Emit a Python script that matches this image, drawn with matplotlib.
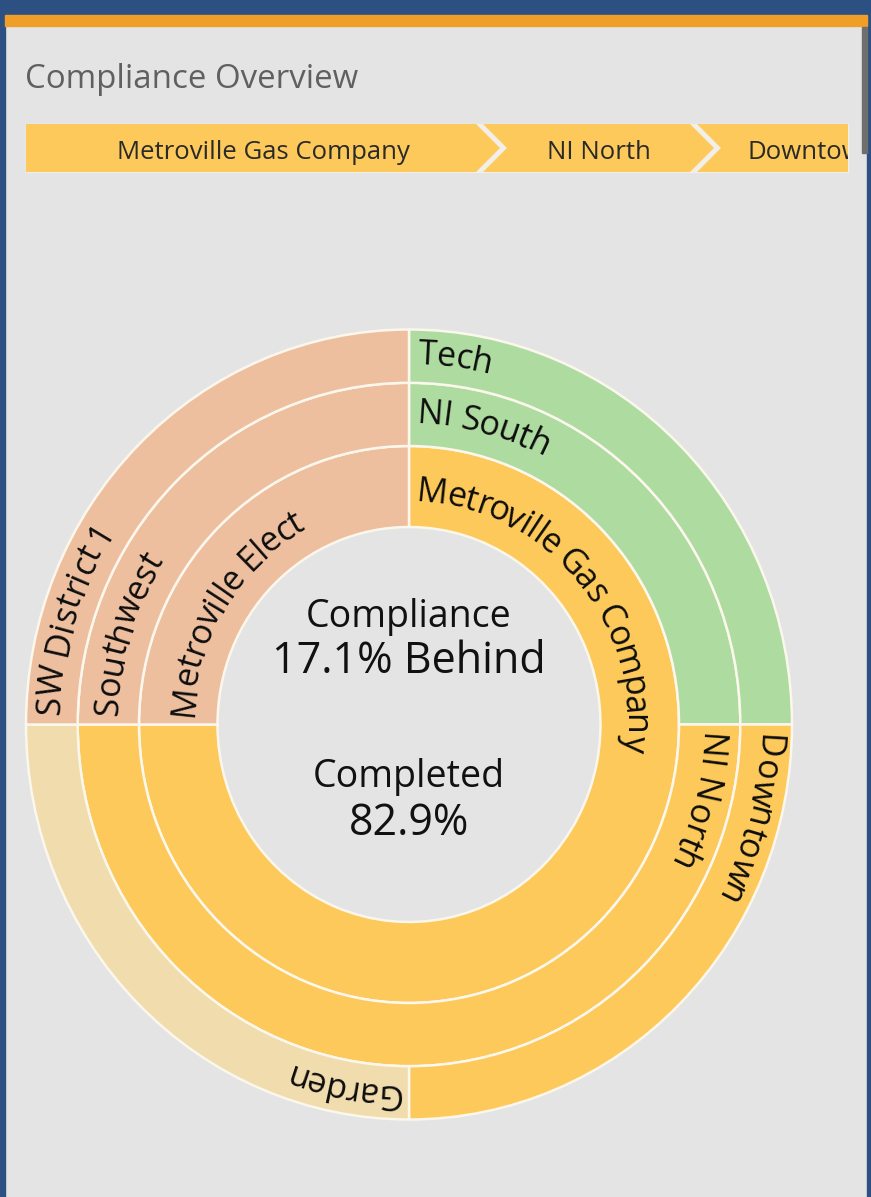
import numpy as np
import matplotlib.pyplot as plt
from matplotlib.patches import Polygon, Rectangle
from matplotlib.font_manager import FontProperties, findfont, get_font

plt.rcParams['font.family'] = ['Open Sans', 'DejaVu Sans']

W, H = 871, 1197

title = "Compliance Overview"
crumbs = ["Metroville Gas Company", "NI North", "Downtown"]

# rings, clockwise from 12 o'clock
ring1_labels = ["Metroville Gas Company", "Metroville Elect"]
ring1_values = [75, 25]
ring2_labels = ["NI South", "NI North", "Southwest"]
ring2_values = [25, 50, 25]
ring3_labels = ["Tech", "Downtown", "Garden", "SW District 1"]
ring3_values = [25, 25, 25, 25]

behind_pct = 17.1
completed_pct = 82.9

ORANGE = '#fdc95a'
GREEN = '#aedb9f'
SALMON = '#edbf9f'
BEIGE = '#f0dcad'
ring1_colors = [ORANGE, SALMON]
ring2_colors = [GREEN, ORANGE, SALMON]
ring3_colors = [GREEN, ORANGE, BEIGE, SALMON]

BG = '#e4e4e4'
EDGE = '#fbf7ec'
BLUE = '#2c5081'

fig = plt.figure(figsize=(W / 100, H / 100), dpi=100)
fig.patch.set_facecolor(BG)

# page chrome, pixel coords with y down
bg = fig.add_axes([0, 0, 1, 1])
bg.set_xlim(0, W)
bg.set_ylim(H, 0)
bg.axis('off')
bg.add_patch(Rectangle((0, 0), W, 15, color=BLUE, zorder=6))
bg.add_patch(Rectangle((0, 0), 5, H, color=BLUE, zorder=6))
bg.add_patch(Rectangle((867, 0), 4, H, color=BLUE, zorder=6))
bg.add_patch(Rectangle((5, 15), 862, 11, color='#ef9f27', zorder=6))
bg.add_patch(Rectangle((862, 27), 5, 126, color='#6f6f6f', zorder=6))

bg.text(25, 88, title, fontsize=23.8, color='#606060', va='baseline')

# breadcrumb chevrons
clip = Rectangle((0, 0), 848, H, transform=bg.transData)
y0, y1 = 124, 172
ym = (y0 + y1) / 2
tip = 24
seg_x = [(26, 476), (483, 690), (697, 904)]
bg.add_patch(Rectangle((26, y0), 822, y1 - y0, color='#f1efe8'))
for i, (lab, (xa, xb)) in enumerate(zip(crumbs, seg_x)):
    pts = [(xa, y0), (xb, y0), (xb + tip, ym), (xb, y1), (xa, y1)]
    if i > 0:
        pts.append((xa + tip, ym))
    p = Polygon(pts, closed=True, facecolor=ORANGE, edgecolor='none')
    bg.add_patch(p)
    p.set_clip_path(clip)
    t = bg.text((xa + xb + tip) / 2, 159, lab, fontsize=18.5, color='#2a2a2a',
                ha='center', va='baseline', clip_on=True)
    t.set_clip_path(clip)

# sunburst
CX, CY, RX, RY = 409, 724.5, 383, 395
ax = fig.add_axes([0, 0, 1, 1])
ax.axis('off')
R0, R1, R2, R3 = 0.5, 0.705, 0.865, 1.0
# (labels, values, colours, inner, outer, text baseline radius)
rings = [
    (ring1_labels, ring1_values, ring1_colors, R0, R1, 0.565),
    (ring2_labels, ring2_values, ring2_colors, R1, R2, 0.762),
    (ring3_labels, ring3_values, ring3_colors, R2, R3, 0.912),
]
for labels, vals, cols, r_in, r_out, _ in rings:
    ax.pie(vals, colors=cols, radius=r_out, startangle=90, counterclock=False,
           wedgeprops=dict(width=r_out - r_in, edgecolor=EDGE, linewidth=1.8))
ax.set_aspect('auto')
ax.set_xlim(-CX / RX, (W - CX) / RX)
ax.set_ylim((CY - H) / RY, CY / RY)

LABEL_PT = 24.5
PX = 100 / 72
font = get_font(findfont(FontProperties(family='Open Sans')))
font.set_size(LABEL_PT, 72)
try:
    from matplotlib.ft2font import Kerning
    KERN = Kerning.DEFAULT
except ImportError:
    KERN = 0


def glyph_metrics(s):
    # (advance, ink centre from pen position) per character, in pixels
    out = []
    prev = None
    for c in s:
        idx = font.get_char_index(ord(c))
        g = font.load_char(ord(c))
        if prev is not None:
            try:
                k = font.get_kerning(prev, idx, KERN) / 64 * PX
                out[-1][0] += k
            except Exception:
                pass
        adv = g.linearHoriAdvance / 65536 * PX
        ink = (g.horiBearingX + g.width / 2) / 64 * PX
        out.append([adv, ink])
        prev = idx
    return out


R_PX = (RX + RY) / 2
PAD = 9


def arc_text(label, theta0, r_path, r_base):
    # advance measured along the ring's centre line, glyphs sit on r_base
    s = PAD
    for c, (adv, ink) in zip(label, glyph_metrics(label)):
        th = np.radians(theta0) - (s + ink) / (r_path * R_PX)
        if c != ' ':
            ax.text(r_base * np.cos(th), r_base * np.sin(th), c,
                    rotation=np.degrees(th) - 90, rotation_mode='anchor',
                    ha='center', va='baseline', fontsize=LABEL_PT,
                    color='#0d0d0d')
        s += adv


for labels, vals, cols, r_in, r_out, r_txt in rings:
    total = float(sum(vals))
    cum = 0
    for lab, v in zip(labels, vals):
        arc_text(lab, 90 - 360 * cum / total, (r_in + r_out) / 2, r_txt)
        cum += v

# centre text
bg.text(CX, 627, "Compliance", fontsize=27, ha='center', va='baseline', color='#111111')
bg.text(CX, 673, f"{behind_pct}% Behind", fontsize=31, ha='center', va='baseline', color='#111111')
bg.text(CX, 787, "Completed", fontsize=27, ha='center', va='baseline', color='#111111')
bg.text(CX, 835, f"{completed_pct}%", fontsize=31, ha='center', va='baseline', color='#111111')

fig.savefig('out.png', dpi=100, facecolor=BG)
